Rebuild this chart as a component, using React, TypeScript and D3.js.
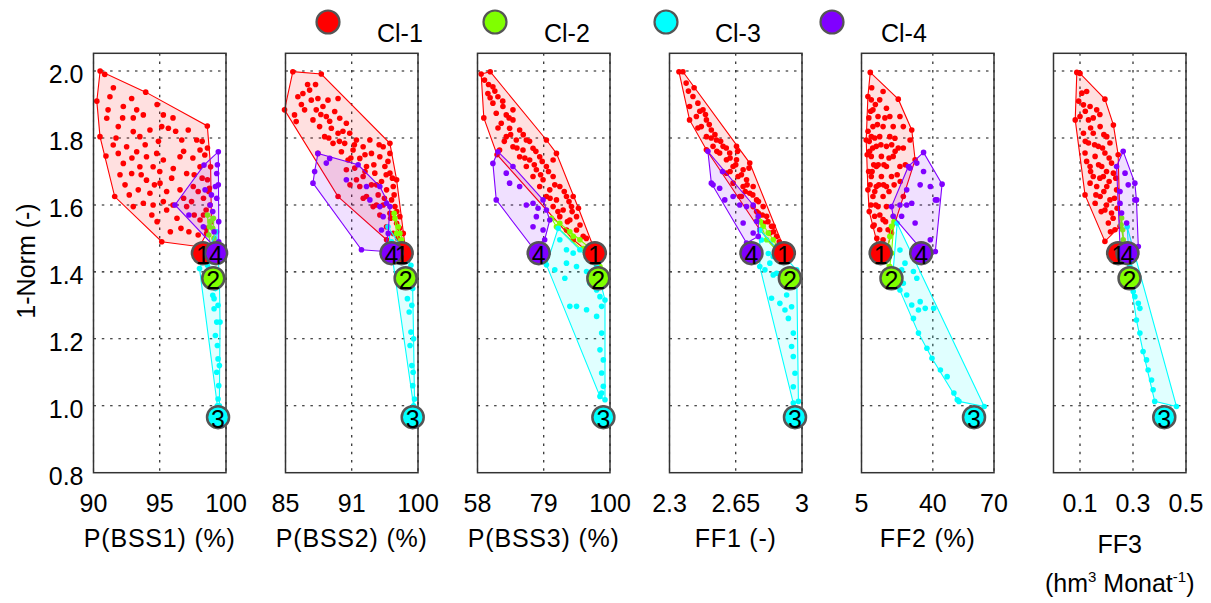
import React, { useEffect, useRef } from "react";
import * as d3 from "d3";

type Pt = [number, number];

// cluster legend / colours
const clusterNames = ["Cl-1", "Cl-2", "Cl-3", "Cl-4"];
const clusterColors = ["#ff0000", "#80ff00", "#00ffff", "#8000ff"];
// 1-Norm of the cluster centres (same in every panel)
const centerNorm = [1.456, 1.381, 0.966, 1.456];
const yTicks = [0.8, 1.0, 1.2, 1.4, 1.6, 1.8, 2.0];

// ---- P(BSS1) ----
const bss1Cl1: Pt[] = [
  [90.25, 1.91], [90.5, 2.0], [90.85, 1.99], [93.94, 1.937], [98.59, 1.836], [98.84, 1.714], [98.9, 1.55],
  [98.54, 1.515], [98.0, 1.475], [95.15, 1.49], [91.6, 1.625], [90.94, 1.746], [90.49, 1.804],
  [91.24, 1.923], [92.88, 1.918], [91.1, 1.884], [92.25, 1.894], [93.26, 1.884], [93.76, 1.869], [95.27, 1.869],
  [95.15, 1.834], [91.0, 1.859], [91.87, 1.834], [93.0, 1.819], [93.5, 1.804], [94.26, 1.824], [95.65, 1.829],
  [97.15, 1.824], [97.79, 1.794], [96.66, 1.794], [91.49, 1.779], [92.5, 1.774], [93.26, 1.759], [94.0, 1.744],
  [94.77, 1.754], [95.27, 1.734], [96.53, 1.744], [98.04, 1.764], [98.4, 1.749], [91.87, 1.754], [92.25, 1.724],
  [93.5, 1.714], [94.5, 1.714], [96.02, 1.709], [97.03, 1.694], [98.04, 1.714], [92.88, 1.694], [94.0, 1.674],
  [95.02, 1.665], [92.38, 1.66], [93.38, 1.645], [94.26, 1.635], [95.52, 1.64], [96.53, 1.645], [97.53, 1.655],
  [98.6, 1.675], [93.76, 1.605], [94.5, 1.6], [95.27, 1.61], [94.4, 1.57], [95.52, 1.585], [98.04, 1.555],
  [98.5, 1.585], [97.03, 1.595], [93.0, 1.595], [98.3, 1.62], [98.7, 1.64], [98.2, 1.68], [98.8, 1.6],
  [97.6, 1.57], [96.3, 1.56], [97.2, 1.52],
  [91.5, 1.95], [92.2, 1.86], [93.0, 1.86], [94.8, 1.9], [96.0, 1.86], [96.8, 1.76], [97.5, 1.74], [98.2, 1.79],
  [98.6, 1.77], [97.9, 1.64], [97.4, 1.61], [96.8, 1.62], [96.0, 1.6], [95.9, 1.68], [95.0, 1.7], [93.9, 1.78],
  [92.9, 1.74], [92.0, 1.69], [91.7, 1.8], [94.9, 1.79], [96.2, 1.82], [97.6, 1.69], [98.5, 1.53], [97.9, 1.51],
  [96.6, 1.53], [95.8, 1.52], [94.8, 1.55], [92.7, 1.63], [93.6, 1.69], [94.6, 1.66], [98.75, 1.65], [98.3, 1.57],
];
const bss1Cl2: Pt[] = [
  [98.6, 1.57], [98.8, 1.55], [99.0, 1.53], [98.7, 1.51], [99.1, 1.5], [98.9, 1.48], [99.05, 1.56], [98.75, 1.535], [98.95, 1.45],
];
const bss1Cl3: Pt[] = [
  [98.0, 1.41], [98.6, 1.42], [99.2, 1.44], [99.3, 1.52], [99.2, 1.35], [99.0, 1.33], [99.4, 1.3], [99.1, 1.29],
  [99.3, 1.25], [99.2, 1.21], [99.35, 1.18], [99.4, 1.14], [99.3, 1.1], [99.45, 1.06], [99.4, 1.02], [99.5, 1.0],
  [99.35, 1.0], [99.5, 1.12], [99.55, 1.25], [99.5, 1.38], [99.1, 1.32], [98.8, 1.38], [99.3, 1.4],
];
const bss1Cl4: Pt[] = [
  [99.42, 1.759], [99.35, 1.72], [99.3, 1.694], [99.42, 1.66], [99.2, 1.655], [98.34, 1.719], [98.42, 1.645],
  [96.15, 1.6], [97.2, 1.57], [98.29, 1.535], [98.8, 1.6], [99.0, 1.58], [99.3, 1.62], [99.45, 1.55],
  [99.45, 1.49], [99.25, 1.47], [98.9, 1.63], [99.1, 1.52],
];
const bss1Centers = [98.26, 99.04, 99.4, 99.25];

// ---- P(BSS2) ----
const bss2Cl1: Pt[] = [
  [84.89, 1.884], [85.83, 1.998], [89.05, 1.991], [90.95, 1.918], [96.82, 1.784], [97.58, 1.675], [97.95, 1.565],
  [98.33, 1.515], [98.52, 1.481], [96.44, 1.496], [90.95, 1.625], [88.67, 1.754], [86.21, 1.849],
  [86.4, 1.923], [87.73, 1.943], [86.02, 1.869],
  [86.97, 1.933], [87.92, 1.913], [88.67, 1.918], [89.81, 1.913], [87.16, 1.884], [88.48, 1.884], [89.24, 1.894],
  [90.57, 1.879], [88.11, 1.854], [89.62, 1.864], [91.14, 1.859], [88.86, 1.834], [90.19, 1.829], [91.89, 1.844],
  [89.43, 1.804], [90.95, 1.814], [92.27, 1.814], [90.38, 1.784], [91.7, 1.784], [93.03, 1.794], [91.33, 1.759],
  [92.65, 1.764], [93.79, 1.774], [92.08, 1.734], [93.41, 1.739], [94.73, 1.754], [92.84, 1.71], [94.17, 1.715],
  [95.68, 1.744], [93.79, 1.685], [95.11, 1.695], [96.25, 1.715], [93.41, 1.655], [94.73, 1.66], [95.87, 1.67],
  [96.82, 1.695], [94.17, 1.625], [95.49, 1.63], [96.44, 1.645], [97.2, 1.655], [94.92, 1.595], [96.06, 1.6],
  [97.01, 1.615], [95.68, 1.57], [96.82, 1.575], [97.39, 1.595], [96.44, 1.535], [97.58, 1.545], [93.03, 1.675],
  [91.89, 1.705], [96.82, 1.754], [96.06, 1.774], [94.55, 1.794], [97.2, 1.515],
  [87.5, 1.96], [88.4, 1.96], [86.8, 1.9], [89.0, 1.87], [90.0, 1.85], [91.5, 1.82], [92.8, 1.78], [94.0, 1.75],
  [95.0, 1.72], [96.4, 1.69], [97.1, 1.68], [95.3, 1.66], [94.0, 1.7], [92.4, 1.74], [91.1, 1.79], [89.9, 1.8],
  [96.9, 1.56], [97.6, 1.58], [96.2, 1.62], [95.3, 1.6], [93.8, 1.62], [92.3, 1.66], [97.3, 1.63], [96.6, 1.73],
  [95.6, 1.78], [97.9, 1.53], [97.7, 1.5],
];
const bss2Cl2: Pt[] = [
  [97.39, 1.56], [97.77, 1.535], [97.95, 1.515], [98.14, 1.496], [97.58, 1.515], [98.52, 1.471], [97.3, 1.575], [98.3, 1.45], [98.0, 1.48],
];
const bss2Cl3: Pt[] = [
  [96.6, 1.535], [97.0, 1.49], [97.5, 1.45], [98.0, 1.4], [98.4, 1.36], [98.8, 1.32], [99.0, 1.28], [99.2, 1.22],
  [99.1, 1.18], [99.3, 1.12], [99.4, 1.06], [99.5, 1.0], [99.6, 1.02], [99.5, 1.2], [99.4, 1.35], [99.2, 1.42],
  [98.9, 1.38], [98.7, 1.44], [98.2, 1.47], [99.3, 1.3], [99.45, 1.1],
];
const bss2Cl4: Pt[] = [
  [88.67, 1.754], [88.11, 1.665], [93.6, 1.466], [96.25, 1.461], [96.63, 1.515], [96.82, 1.595], [96.44, 1.605],
  [95.68, 1.595], [93.22, 1.72], [94.17, 1.655], [90.0, 1.739], [94.55, 1.615], [95.87, 1.525], [91.89, 1.675],
  [89.62, 1.725], [96.06, 1.565], [88.3, 1.7], [95.68, 1.655],
];
const bss2Centers = [98.15, 98.6, 99.4, 97.0];

// ---- P(BSS3) ----
const bss3Cl1: Pt[] = [
  [59.16, 1.991], [62.03, 1.998], [69.24, 1.884], [81.97, 1.734], [88.33, 1.625], [94.69, 1.476], [93.63, 1.456],
  [64.2, 1.75], [60.0, 1.86],
  [60.22, 1.973], [62.88, 1.953], [61.29, 1.933], [64.47, 1.923], [62.88, 1.904], [66.06, 1.894], [63.94, 1.874],
  [67.12, 1.869], [69.24, 1.854], [65.53, 1.844], [68.18, 1.829], [71.36, 1.824], [67.12, 1.804], [70.3, 1.794],
  [73.48, 1.794], [69.24, 1.774], [72.42, 1.764], [75.6, 1.769], [71.36, 1.744], [74.54, 1.734], [77.72, 1.744],
  [73.48, 1.715], [76.66, 1.705], [79.84, 1.715], [75.6, 1.685], [78.78, 1.675], [81.97, 1.685], [77.72, 1.655],
  [80.91, 1.645], [84.09, 1.655], [79.84, 1.625], [83.03, 1.615], [86.21, 1.625], [81.97, 1.595], [85.15, 1.585],
  [87.8, 1.595], [84.09, 1.565], [87.27, 1.555], [89.39, 1.565], [86.21, 1.525], [89.39, 1.525], [88.33, 1.496],
  [91.51, 1.506], [65.0, 1.764], [79.84, 1.794], [83.03, 1.754],
  [61.5, 1.96], [63.5, 1.94], [66.0, 1.91], [62.0, 1.92], [68.0, 1.86], [72.5, 1.81], [74.5, 1.79], [76.5, 1.76],
  [78.5, 1.73], [80.5, 1.7], [82.5, 1.66], [85.5, 1.64], [88.0, 1.58], [90.5, 1.54], [92.5, 1.5], [70.5, 1.77],
  [73.0, 1.74], [76.0, 1.72], [78.0, 1.69], [81.0, 1.62], [83.5, 1.58], [86.5, 1.55], [66.5, 1.79], [68.5, 1.81],
  [64.5, 1.83], [90.0, 1.59], [87.0, 1.61],
];
const bss3Cl2: Pt[] = [
  [81.44, 1.56], [84.09, 1.545], [87.27, 1.52], [90.45, 1.496], [93.63, 1.471], [95.75, 1.441], [96.81, 1.416],
  [88.33, 1.506], [83.03, 1.535], [91.5, 1.47],
];
const bss3Cl3: Pt[] = [
  [83.56, 1.53], [79.85, 1.421], [87.27, 1.297], [96.82, 1.028], [98.41, 1.018], [98.41, 1.316], [95.76, 1.416],
  [86.21, 1.466], [88.33, 1.456], [90.45, 1.466], [86.21, 1.426], [89.39, 1.416], [92.57, 1.401], [82.5, 1.406],
  [85.68, 1.381], [93.63, 1.366], [95.76, 1.346], [96.82, 1.326], [89.39, 1.297], [92.57, 1.287], [95.76, 1.267],
  [97.35, 1.297], [97.35, 1.217], [96.82, 1.167], [97.88, 1.137], [97.35, 1.098], [97.88, 1.058], [97.35, 1.038],
  [84.09, 1.496],
];
const bss3Cl4: Pt[] = [
  [64.47, 1.759], [62.88, 1.724], [63.94, 1.615], [75.6, 1.471], [79.3, 1.496], [80.91, 1.555], [79.84, 1.585],
  [69.24, 1.715], [68.18, 1.665], [73.48, 1.6], [75.6, 1.605], [77.19, 1.59], [78.78, 1.615], [76.66, 1.565],
  [78.78, 1.525], [75.6, 1.535], [71.36, 1.655], [67.12, 1.695],
];
const bss3Centers = [95.2, 96.3, 97.9, 77.4];

// ---- FF1 ----
const ff1Cl1: Pt[] = [
  [2.35, 1.998], [2.371, 1.998], [2.654, 1.775], [2.724, 1.725], [2.848, 1.536], [2.901, 1.476], [2.866, 1.466],
  [2.777, 1.526], [2.671, 1.625], [2.495, 1.765], [2.406, 1.854],
  [2.388, 1.964], [2.424, 1.924], [2.45, 1.904], [2.406, 1.894], [2.477, 1.884], [2.442, 1.864], [2.495, 1.854],
  [2.468, 1.834], [2.521, 1.824], [2.495, 1.804], [2.548, 1.794], [2.53, 1.775], [2.583, 1.775], [2.565, 1.755],
  [2.618, 1.755], [2.601, 1.735], [2.654, 1.735], [2.636, 1.715], [2.689, 1.705], [2.662, 1.685], [2.707, 1.675],
  [2.689, 1.655], [2.742, 1.655], [2.724, 1.635], [2.76, 1.615], [2.742, 1.595], [2.795, 1.595], [2.769, 1.576],
  [2.813, 1.566], [2.795, 1.546], [2.839, 1.536], [2.83, 1.516], [2.866, 1.506], [2.636, 1.665], [2.68, 1.625],
  [2.601, 1.695],
  [2.4, 1.94], [2.43, 1.95], [2.46, 1.88], [2.49, 1.87], [2.51, 1.84], [2.54, 1.81], [2.57, 1.79], [2.6, 1.77],
  [2.62, 1.74], [2.65, 1.72], [2.68, 1.69], [2.71, 1.66], [2.74, 1.63], [2.77, 1.61], [2.79, 1.57], [2.82, 1.55],
  [2.85, 1.52], [2.88, 1.49], [2.55, 1.76], [2.62, 1.7], [2.7, 1.64], [2.76, 1.58], [2.45, 1.83], [2.52, 1.8],
  [2.66, 1.76], [2.72, 1.71],
];
const ff1Cl2: Pt[] = [
  [2.769, 1.561], [2.795, 1.536], [2.822, 1.516], [2.848, 1.496], [2.866, 1.476], [2.813, 1.496], [2.78, 1.55], [2.88, 1.455], [2.91, 1.44],
];
const ff1Cl3: Pt[] = [
  [2.777, 1.525], [2.777, 1.416], [2.954, 1.008], [2.981, 1.013], [2.972, 1.406], [2.9, 1.44],
  [2.822, 1.455], [2.848, 1.446], [2.83, 1.426], [2.804, 1.406], [2.866, 1.396], [2.839, 1.321], [2.883, 1.306],
  [2.91, 1.286], [2.945, 1.296], [2.928, 1.261], [2.954, 1.217], [2.945, 1.177], [2.954, 1.147], [2.963, 1.097],
  [2.954, 1.057], [2.919, 1.331], [2.786, 1.495], [2.848, 1.391],
];
const ff1Cl4: Pt[] = [
  [2.503, 1.76], [2.521, 1.665], [2.707, 1.486], [2.769, 1.506], [2.769, 1.566], [2.53, 1.66], [2.565, 1.65],
  [2.592, 1.615], [2.636, 1.625], [2.671, 1.6], [2.707, 1.595], [2.742, 1.6], [2.689, 1.546], [2.742, 1.516],
  [2.76, 1.551], [2.58, 1.7],
];
const ff1Centers = [2.904, 2.936, 2.963, 2.733];

// ---- FF2 ----
const ff2Cl1: Pt[] = [
  [9.3, 1.996], [15.59, 1.939], [23.03, 1.916], [29.65, 1.824], [31.3, 1.735], [25.51, 1.625], [19.72, 1.516],
  [17.24, 1.466], [13.1, 1.476], [10.62, 1.536], [8.14, 1.645], [7.31, 1.794], [8.14, 1.924],
  [9.8, 1.914], [13.93, 1.914], [10.62, 1.884], [17.24, 1.889], [13.1, 1.864], [18.89, 1.864], [10.62, 1.834],
  [15.59, 1.834], [20.55, 1.834], [9.8, 1.804], [13.93, 1.804], [18.89, 1.804], [12.28, 1.775], [17.24, 1.775],
  [23.03, 1.77], [9.8, 1.745], [14.76, 1.745], [20.55, 1.745], [12.28, 1.715], [17.24, 1.715], [23.86, 1.715],
  [9.8, 1.685], [14.76, 1.685], [19.72, 1.685], [12.28, 1.655], [17.24, 1.655], [10.62, 1.625], [15.59, 1.625],
  [13.1, 1.595], [17.24, 1.595], [11.45, 1.566], [15.59, 1.556], [13.93, 1.526], [18.07, 1.526], [15.59, 1.496],
  [25.51, 1.77], [21.38, 1.799], [25.51, 1.834], [23.86, 1.864], [28.82, 1.794],
  [8.5, 1.7], [8.8, 1.58], [9.0, 1.76], [11.0, 1.72], [11.5, 1.8], [12.0, 1.6], [8.6, 1.86], [10.0, 1.95],
  [7.8, 1.75], [8.2, 1.82], [9.5, 1.88], [11.8, 1.9], [12.8, 1.84], [16.5, 1.86], [14.5, 1.78], [16.0, 1.72],
  [18.5, 1.74], [21.5, 1.76], [10.5, 1.77], [9.2, 1.66], [11.5, 1.64], [13.5, 1.66], [15.8, 1.66], [18.5, 1.64],
  [21.0, 1.66], [22.5, 1.69], [9.6, 1.6], [11.2, 1.54], [14.0, 1.57], [16.8, 1.55], [12.5, 1.5], [14.8, 1.48],
  [10.2, 1.7], [13.2, 1.72], [8.8, 1.79], [19.8, 1.78], [26.5, 1.72], [24.0, 1.67],
];
const ff2Cl2: Pt[] = [
  [20.55, 1.566], [19.72, 1.536], [18.89, 1.506], [18.07, 1.476], [17.24, 1.446], [18.89, 1.416], [19.72, 1.456], [21.0, 1.55], [17.8, 1.4],
];
const ff2Cl3: Pt[] = [
  [22.5, 1.545], [40.4, 1.291], [65.21, 0.998], [52.81, 1.013], [23.03, 1.356], [20.55, 1.406], [23.86, 1.465],
  [26.34, 1.426], [24.68, 1.406], [30.47, 1.401], [32.13, 1.381], [25.51, 1.366], [27.17, 1.331], [29.65, 1.301],
  [33.78, 1.311], [36.26, 1.291], [32.95, 1.286], [30.47, 1.261], [32.95, 1.217], [37.09, 1.172], [39.57, 1.142],
  [43.71, 1.107], [47.02, 1.087], [50.32, 1.038], [51.98, 1.018], [23.86, 1.346],
];
const ff2Cl4: Pt[] = [
  [35.44, 1.757], [44.53, 1.662], [42.05, 1.615], [41.23, 1.461], [34.0, 1.47], [20.55, 1.566], [19.72, 1.595],
  [27.99, 1.715], [32.13, 1.725], [28.82, 1.71], [35.44, 1.7], [33.78, 1.66], [38.75, 1.655], [27.17, 1.645],
  [23.86, 1.6], [27.17, 1.6], [29.65, 1.605], [24.68, 1.566], [31.3, 1.546], [41.23, 1.615], [38.75, 1.496],
];
const ff2Centers = [14.4, 19.7, 60.2, 34.3];

// ---- FF3 ----
const ff3Cl1: Pt[] = [
  [0.088, 1.996], [0.1, 1.993], [0.194, 1.916], [0.226, 1.839], [0.244, 1.75], [0.251, 1.536], [0.194, 1.491],
  [0.119, 1.63], [0.082, 1.854],
  [0.107, 1.934], [0.125, 1.939], [0.113, 1.899], [0.138, 1.894], [0.163, 1.884], [0.1, 1.864], [0.132, 1.854],
  [0.176, 1.834], [0.113, 1.814], [0.15, 1.814], [0.201, 1.804], [0.132, 1.785], [0.169, 1.775], [0.213, 1.785],
  [0.119, 1.755], [0.157, 1.745], [0.194, 1.755], [0.138, 1.715], [0.182, 1.715], [0.219, 1.725], [0.15, 1.685],
  [0.188, 1.685], [0.226, 1.695], [0.163, 1.655], [0.201, 1.655], [0.176, 1.625], [0.213, 1.615], [0.157, 1.605],
  [0.194, 1.585], [0.219, 1.576], [0.207, 1.546], [0.232, 1.526], [0.138, 1.665], [0.238, 1.645],
  [0.095, 1.91], [0.12, 1.88], [0.15, 1.86], [0.175, 1.87], [0.14, 1.83], [0.19, 1.81], [0.12, 1.79], [0.155, 1.78],
  [0.185, 1.77], [0.21, 1.74], [0.125, 1.73], [0.17, 1.72], [0.2, 1.7], [0.14, 1.7], [0.175, 1.68], [0.21, 1.67],
  [0.19, 1.64], [0.23, 1.62], [0.2, 1.6], [0.18, 1.58], [0.225, 1.56], [0.24, 1.59], [0.215, 1.52], [0.16, 1.63],
  [0.235, 1.68],
];
const ff3Cl2: Pt[] = [
  [0.257, 1.561], [0.261, 1.526], [0.263, 1.496], [0.255, 1.54], [0.268, 1.47],
];
const ff3Cl3: Pt[] = [
  [0.278, 1.535], [0.464, 0.998], [0.382, 1.013], [0.295, 1.356], [0.307, 1.326], [0.326, 1.291], [0.313, 1.256],
  [0.326, 1.217], [0.338, 1.162], [0.351, 1.137], [0.357, 1.107], [0.37, 1.077], [0.376, 1.048], [0.32, 1.306],
  [0.301, 1.341], [0.288, 1.416], [0.285, 1.47], [0.29, 1.38],
];
const ff3Cl4: Pt[] = [
  [0.263, 1.76], [0.307, 1.665], [0.313, 1.615], [0.32, 1.476], [0.251, 1.476], [0.238, 1.715], [0.27, 1.695],
  [0.282, 1.66], [0.307, 1.615], [0.251, 1.605], [0.257, 1.576], [0.276, 1.546], [0.251, 1.64],
];
const ff3Centers = [0.244, 0.287, 0.418, 0.279];

const panels = [
  { label: ["P(BSS1) (%)"], domain: [90, 100], tickVals: [90, 95, 100], tickLabels: ["90", "95", "100"], clusters: [bss1Cl1, bss1Cl2, bss1Cl3, bss1Cl4], centers: bss1Centers },
  { label: ["P(BSS2) (%)"], domain: [85, 100], tickVals: [85, 92.5, 100], tickLabels: ["85", "91", "100"], clusters: [bss2Cl1, bss2Cl2, bss2Cl3, bss2Cl4], centers: bss2Centers },
  { label: ["P(BSS3) (%)"], domain: [58, 100], tickVals: [58, 79, 100], tickLabels: ["58", "79", "100"], clusters: [bss3Cl1, bss3Cl2, bss3Cl3, bss3Cl4], centers: bss3Centers },
  { label: ["FF1 (-)"], domain: [2.3, 3], tickVals: [2.3, 2.65, 3], tickLabels: ["2.3", "2.65", "3"], clusters: [ff1Cl1, ff1Cl2, ff1Cl3, ff1Cl4], centers: ff1Centers },
  { label: ["FF2 (%)"], domain: [5, 70], tickVals: [5, 40, 70], tickLabels: ["5", "40", "70"], clusters: [ff2Cl1, ff2Cl2, ff2Cl3, ff2Cl4], centers: ff2Centers },
  { label: ["FF3", "unit"], domain: [0, 0.5], tickVals: [0.1, 0.3, 0.5], tickLabels: ["0.1", "0.3", "0.5"], clusters: [ff3Cl1, ff3Cl2, ff3Cl3, ff3Cl4], centers: ff3Centers },
];

const FONT = "'Liberation Sans', Arial, Helvetica, sans-serif";

export default function App() {
  const ref = useRef<SVGSVGElement>(null);

  useEffect(() => {
    const svg = d3.select(ref.current);
    svg.selectAll("*").remove();

    const width = 1211;
    const height = 603;
    const margin = { top: 53.3, left: 93.5 };
    const panelW = 132.5;
    const panelStep = 192;
    const innerH = 419.4;

    svg.append("rect").attr("width", width).attr("height", height).attr("fill", "#fff");

    const y = d3.scaleLinear().domain([0.8, 2.053]).range([innerH, 0]);

    panels.forEach((p, i) => {
      const g = svg.append("g").attr("transform", `translate(${margin.left + i * panelStep},${margin.top})`);
      const x = d3.scaleLinear().domain(p.domain).range([0, panelW]);

      // dotted grid
      g.selectAll(".vgrid")
        .data(p.tickVals)
        .join("line")
        .attr("x1", d => x(d)).attr("x2", d => x(d))
        .attr("y1", 0).attr("y2", innerH)
        .attr("stroke", "#111").attr("stroke-width", 1.1).attr("stroke-dasharray", "2.5,5.8");
      g.selectAll(".hgrid")
        .data(yTicks.slice(1))
        .join("line")
        .attr("x1", 0).attr("x2", panelW)
        .attr("y1", d => y(d)).attr("y2", d => y(d))
        .attr("stroke", "#111").attr("stroke-width", 1.1).attr("stroke-dasharray", "2.5,5.8");

      // clusters: hull, then points
      p.clusters.forEach((pts, k) => {
        const col = clusterColors[k];
        const proj = pts.map(d => [x(d[0]), y(d[1])] as [number, number]);
        const hull = d3.polygonHull(proj);
        if (hull) {
          g.append("path")
            .attr("d", "M" + hull.map(h => h.join(",")).join("L") + "Z")
            .attr("fill", col).attr("fill-opacity", 0.12)
            .attr("stroke", col).attr("stroke-width", 1.1);
        }
        g.append("g")
          .selectAll("circle")
          .data(proj)
          .join("circle")
          .attr("cx", d => d[0]).attr("cy", d => d[1]).attr("r", 2.8)
          .attr("fill", col);
      });

      // box
      g.append("rect")
        .attr("width", panelW).attr("height", innerH)
        .attr("fill", "none").attr("stroke", "#333").attr("stroke-width", 1.5);

      // cluster centres
      p.centers.forEach((cx, k) => {
        g.append("circle")
          .attr("cx", x(cx)).attr("cy", y(centerNorm[k])).attr("r", 11)
          .attr("fill", clusterColors[k]).attr("stroke", "#555").attr("stroke-width", 2.5);
      });
      p.centers.forEach((cx, k) => {
        g.append("text")
          .attr("x", x(cx)).attr("y", y(centerNorm[k]) + 11)
          .attr("text-anchor", "middle")
          .attr("font-family", FONT).attr("font-size", 25).attr("fill", "#000")
          .text(String(k + 1));
      });

      // x tick labels
      g.selectAll(".xtl")
        .data(p.tickVals)
        .join("text")
        .attr("x", d => x(d)).attr("y", 459)
        .attr("text-anchor", "middle")
        .attr("font-family", FONT).attr("font-size", 25).attr("fill", "#000")
        .text((d, j) => p.tickLabels[j]);

      // x axis label
      if (p.label.length === 1) {
        g.append("text")
          .attr("x", panelW / 2).attr("y", 494)
          .attr("text-anchor", "middle")
          .attr("font-family", FONT).attr("font-size", 25).attr("letter-spacing", 0.8).attr("fill", "#000")
          .text(p.label[0]);
      } else {
        g.append("text")
          .attr("x", panelW / 2).attr("y", 500)
          .attr("text-anchor", "middle")
          .attr("font-family", FONT).attr("font-size", 25).attr("fill", "#000")
          .text(p.label[0]);
        const t = g.append("text")
          .attr("x", panelW / 2).attr("y", 539)
          .attr("text-anchor", "middle")
          .attr("font-family", FONT).attr("font-size", 25).attr("fill", "#000");
        t.append("tspan").text("(hm");
        t.append("tspan").attr("font-size", 15).attr("dy", -10).text("3");
        t.append("tspan").attr("dy", 10).text(" Monat");
        t.append("tspan").attr("font-size", 15).attr("dy", -10).text("-1");
        t.append("tspan").attr("dy", 10).text(")");
      }

      // y tick labels only on first panel
      if (i === 0) {
        g.selectAll(".ytl")
          .data(yTicks)
          .join("text")
          .attr("x", -10).attr("y", d => y(d) + 12)
          .attr("text-anchor", "end")
          .attr("font-family", FONT).attr("font-size", 25).attr("fill", "#000")
          .text(d => d3.format(".1f")(d));
        g.append("text")
          .attr("transform", `translate(-59,${innerH / 2 - 2}) rotate(-90)`)
          .attr("text-anchor", "middle")
          .attr("font-family", FONT).attr("font-size", 25).attr("fill", "#000")
          .text("1-Norm (-)");
      }
    });

    // legend
    const legendX = [328, 495, 666, 832];
    clusterNames.forEach((name, k) => {
      svg.append("circle")
        .attr("cx", legendX[k]).attr("cy", 22).attr("r", 11.5)
        .attr("fill", clusterColors[k]).attr("stroke", "#555").attr("stroke-width", 2.2);
      svg.append("text")
        .attr("x", legendX[k] + 49).attr("y", 42)
        .attr("font-family", FONT).attr("font-size", 25).attr("fill", "#000")
        .text(name);
    });
  }, []);

  return (
    <svg
      ref={ref}
      width={1211}
      height={603}
      style={{ position: "absolute", left: 0, top: 0 }}
    />
  );
}
